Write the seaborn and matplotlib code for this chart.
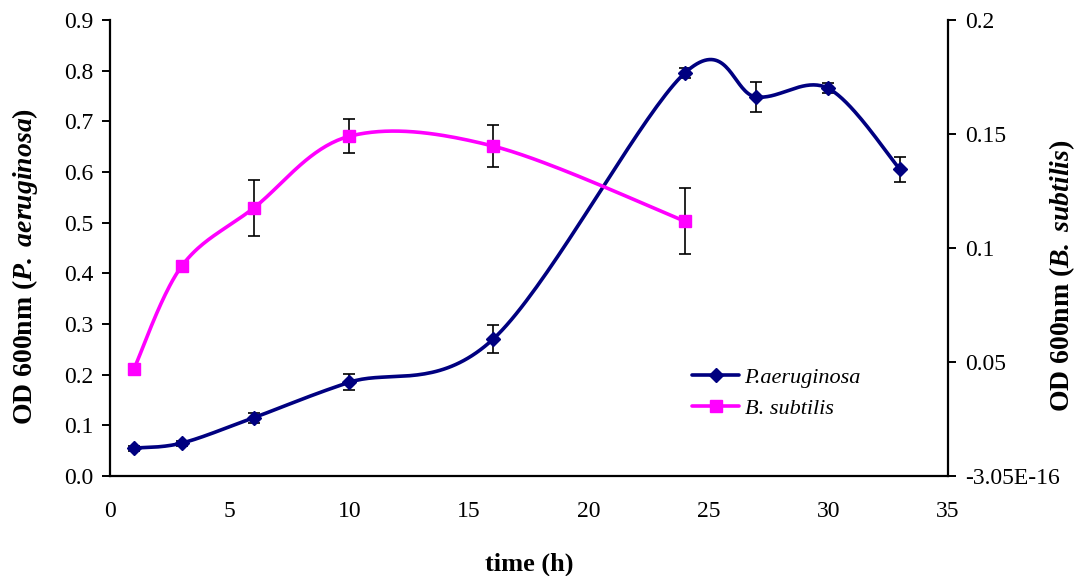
import numpy as np
import matplotlib
matplotlib.use("Agg")
import matplotlib.pyplot as plt
import seaborn as sns
from matplotlib.lines import Line2D

# ---- data ----
pa_time = [1, 3, 6, 10, 16, 24, 27, 30, 33]
pa_od = [0.055, 0.065, 0.115, 0.185, 0.270, 0.795, 0.748, 0.765, 0.605]
pa_err = [0.005, 0.005, 0.010, 0.016, 0.028, 0.010, 0.030, 0.010, 0.025]

bs_time = [1, 3, 6, 10, 16, 24]
bs_od = [0.0469, 0.0921, 0.1175, 0.149, 0.1447, 0.1118]
bs_err = [0.0, 0.0, 0.0123, 0.0074, 0.0092, 0.0145]

left_ticks = [0.0, 0.1, 0.2, 0.3, 0.4, 0.5, 0.6, 0.7, 0.8, 0.9]
right_ticks = [0.0, 0.05, 0.1, 0.15, 0.2]
right_labels = ["-3.05E-16", "0.05", "0.1", "0.15", "0.2"]
x_ticks = [0, 5, 10, 15, 20, 25, 30, 35]

sns.set_theme(style="white")
plt.rcParams["font.family"] = ["Liberation Serif", "DejaVu Serif"]
plt.rcParams["mathtext.fontset"] = "custom"
plt.rcParams["mathtext.rm"] = "Liberation Serif"
plt.rcParams["mathtext.it"] = "Liberation Serif:italic"
plt.rcParams["mathtext.bf"] = "Liberation Serif:bold"
plt.rcParams["mathtext.bfit"] = "Liberation Serif:bold:italic"
plt.rcParams["text.color"] = "black"
plt.rcParams["axes.labelcolor"] = "black"
plt.rcParams["xtick.color"] = "black"
plt.rcParams["ytick.color"] = "black"


def smooth(x, y, n=40):
    """Catmull-Rom (Excel style) smoothing through the data points."""
    x = np.asarray(x, float)
    y = np.asarray(y, float)
    px = np.concatenate([[x[0]], x, [x[-1]]])
    py = np.concatenate([[y[0]], y, [y[-1]]])
    xs, ys = [], []
    for i in range(1, len(px) - 2):
        p0 = np.array([px[i], py[i]])
        p3 = np.array([px[i + 1], py[i + 1]])
        c1 = p0 + (np.array([px[i + 1], py[i + 1]]) - np.array([px[i - 1], py[i - 1]])) / 6
        c2 = p3 - (np.array([px[i + 2], py[i + 2]]) - np.array([px[i], py[i]])) / 6
        t = np.linspace(0, 1, n)[:, None]
        pts = ((1 - t) ** 3) * p0 + 3 * ((1 - t) ** 2) * t * c1 + 3 * (1 - t) * t ** 2 * c2 + t ** 3 * p3
        xs.extend(pts[:, 0])
        ys.extend(pts[:, 1])
    return np.array(xs), np.array(ys)


fig = plt.figure(figsize=(10.78, 5.76), dpi=100)
ax = fig.add_axes([0.102, 0.1736, 0.7774, 0.7917])
ax2 = ax.twinx()

navy = "#000080"
mag = "#FF00FF"

sx, sy = smooth(pa_time, pa_od)
sns.lineplot(x=sx, y=sy, ax=ax, color=navy, lw=2.6, sort=False, estimator=None)
ax.errorbar(pa_time, pa_od, yerr=pa_err, fmt="none", ecolor="black", elinewidth=1.2, capsize=4, capthick=1.2, zorder=1)
ax.plot(pa_time, pa_od, ls="none", marker="D", ms=7, color=navy, zorder=3)

bx, by = smooth(bs_time, bs_od)
sns.lineplot(x=bx, y=by, ax=ax2, color=mag, lw=2.6, sort=False, estimator=None)
ax2.errorbar(bs_time, bs_od, yerr=bs_err, fmt="none", ecolor="black", elinewidth=1.2, capsize=4, capthick=1.2, zorder=1)
ax2.plot(bs_time, bs_od, ls="none", marker="s", ms=9, color=mag, zorder=3)

ax.set_xlim(0, 35)
ax.set_ylim(0, 0.9)
ax2.set_ylim(0, 0.2)
ax.set_xticks(x_ticks)
ax.set_xticklabels([str(v) for v in x_ticks])
ax.set_yticks(left_ticks)
ax.set_yticklabels([f"{v:.1f}" for v in left_ticks])
ax2.set_yticks(right_ticks)
ax2.set_yticklabels(right_labels)

for a in (ax, ax2):
    for s in a.spines.values():
        s.set_visible(False)
ax.spines["left"].set_visible(True)
ax.spines["bottom"].set_visible(True)
ax2.spines["right"].set_visible(True)
for s in (ax.spines["left"], ax.spines["bottom"], ax2.spines["right"]):
    s.set_color("black")
    s.set_linewidth(1.6)

ax.tick_params(axis="x", direction="out", length=6, width=1.4, labelsize=17, pad=12)
ax.tick_params(axis="y", direction="out", length=6, width=1.4, labelsize=17, pad=6)
ax2.tick_params(axis="y", direction="out", length=6, width=1.4, labelsize=17, pad=6)
ax.grid(False)
ax2.grid(False)

ax.set_xlabel("time (h)", fontsize=19, fontweight="bold", labelpad=22)
ax.set_ylabel(r"$\mathbf{OD\ 600nm\ (}\mathbfit{P.\ aeruginosa}\mathbf{)}$", fontsize=20,
              rotation=90, va="center", ha="center")
ax.yaxis.set_label_coords(-0.1014, 0.46)
ax2.set_ylabel(r"$\mathbf{OD\ 600nm\ (}\mathbfit{B.\ subtilis}\mathbf{)}$", fontsize=20,
               rotation=90, va="center", ha="center")
ax2.yaxis.set_label_coords(1.136, 0.44)

handles = [
    Line2D([], [], color=navy, lw=2.6, marker="D", ms=7),
    Line2D([], [], color=mag, lw=2.6, marker="s", ms=9),
]
leg = ax.legend(handles, ["P.aeruginosa", "B. subtilis"], loc="upper left",
                bbox_to_anchor=(0.671, 0.283), frameon=False, handlelength=2.1,
                prop={"family": "Liberation Serif", "style": "italic", "size": 16},
                labelspacing=0.5, handletextpad=0.25)

fig.savefig("out.png", dpi=100)
